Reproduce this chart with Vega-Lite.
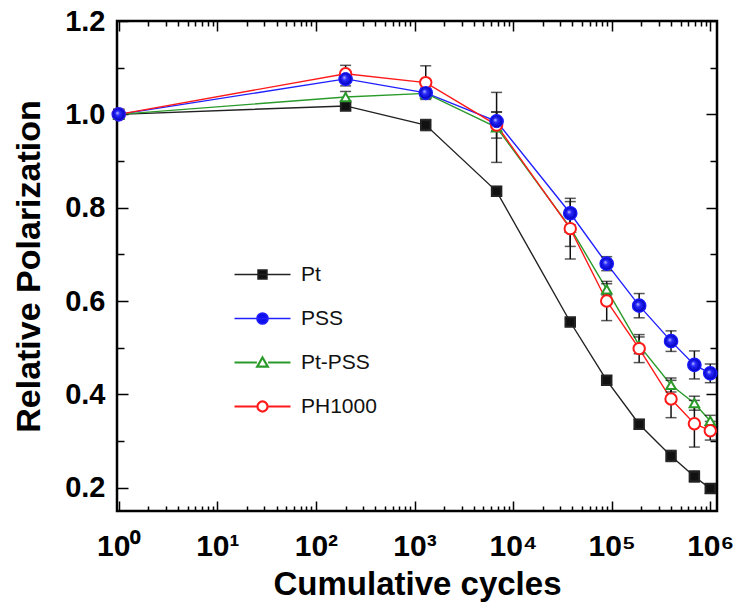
{
  "$schema": "https://vega.github.io/schema/vega-lite/v6.json",
  "width": 600,
  "height": 490,
  "autosize": "none",
  "padding": {"left": 117, "top": 21, "right": 20, "bottom": 96},
  "background": "white",
  "config": {
    "view": {"stroke": "black", "strokeWidth": 2.5},
    "font": "Liberation Sans",
    "axis": {"grid": false, "domain": false, "tickColor": "black", "tickWidth": 1.5, "labelFont": "Liberation Sans", "titleFont": "Liberation Sans"}
  },
  "datasets": {
    "pol": [
      {"series": "Pt", "cycles": 1, "v": 1.0, "e": 0},
      {"series": "Pt", "cycles": 200, "v": 1.018, "e": 0.008},
      {"series": "Pt", "cycles": 1300, "v": 0.977, "e": 0.012},
      {"series": "Pt", "cycles": 6800, "v": 0.835, "e": 0.01},
      {"series": "Pt", "cycles": 38000, "v": 0.555, "e": 0.006},
      {"series": "Pt", "cycles": 89000, "v": 0.43, "e": 0.009},
      {"series": "Pt", "cycles": 190000, "v": 0.336, "e": 0.01},
      {"series": "Pt", "cycles": 400000, "v": 0.268, "e": 0.012},
      {"series": "Pt", "cycles": 690000, "v": 0.224, "e": 0.012},
      {"series": "Pt", "cycles": 1000000, "v": 0.198, "e": 0.01},
      {"series": "PSS", "cycles": 1, "v": 1.0, "e": 0},
      {"series": "PSS", "cycles": 200, "v": 1.076, "e": 0.015},
      {"series": "PSS", "cycles": 1300, "v": 1.046, "e": 0.01},
      {"series": "PSS", "cycles": 6800, "v": 0.985, "e": 0.02},
      {"series": "PSS", "cycles": 38000, "v": 0.788, "e": 0.025},
      {"series": "PSS", "cycles": 89000, "v": 0.68, "e": 0.015},
      {"series": "PSS", "cycles": 190000, "v": 0.59, "e": 0.026},
      {"series": "PSS", "cycles": 400000, "v": 0.514, "e": 0.022},
      {"series": "PSS", "cycles": 690000, "v": 0.463, "e": 0.03},
      {"series": "PSS", "cycles": 1000000, "v": 0.445, "e": 0.02},
      {"series": "Pt-PSS", "cycles": 1, "v": 1.0, "e": 0},
      {"series": "Pt-PSS", "cycles": 200, "v": 1.037, "e": 0.012},
      {"series": "Pt-PSS", "cycles": 1300, "v": 1.045, "e": 0.01},
      {"series": "Pt-PSS", "cycles": 6800, "v": 0.972, "e": 0.075},
      {"series": "Pt-PSS", "cycles": 38000, "v": 0.757, "e": 0.04},
      {"series": "Pt-PSS", "cycles": 89000, "v": 0.625, "e": 0.012},
      {"series": "Pt-PSS", "cycles": 190000, "v": 0.505, "e": 0.018},
      {"series": "Pt-PSS", "cycles": 400000, "v": 0.42, "e": 0.015},
      {"series": "Pt-PSS", "cycles": 690000, "v": 0.381, "e": 0.015},
      {"series": "Pt-PSS", "cycles": 1000000, "v": 0.343, "e": 0.012},
      {"series": "PH1000", "cycles": 1, "v": 1.0, "e": 0},
      {"series": "PH1000", "cycles": 200, "v": 1.087, "e": 0.018},
      {"series": "PH1000", "cycles": 1300, "v": 1.068, "e": 0.036},
      {"series": "PH1000", "cycles": 6800, "v": 0.977, "e": 0.028},
      {"series": "PH1000", "cycles": 38000, "v": 0.755, "e": 0.065},
      {"series": "PH1000", "cycles": 89000, "v": 0.6, "e": 0.042},
      {"series": "PH1000", "cycles": 190000, "v": 0.498, "e": 0.03},
      {"series": "PH1000", "cycles": 400000, "v": 0.39, "e": 0.04},
      {"series": "PH1000", "cycles": 690000, "v": 0.337, "e": 0.05},
      {"series": "PH1000", "cycles": 1000000, "v": 0.322, "e": 0.02}
    ]
  },
  "data": {"name": "pol"},
  "resolve": {"axis": {"x": "independent", "y": "independent"}},
  "layer": [
    {
      "mark": {"type": "line", "strokeWidth": 1.4},
      "encoding": {
        "x": {
          "field": "cycles", "type": "quantitative",
          "scale": {"type": "log", "domain": [0.96, 1170000], "nice": false},
          "axis": {
            "orient": "bottom",
            "title": "Cumulative cycles",
            "titleFontSize": 33, "titleFontWeight": "bold", "titlePadding": 2,
            "values": [1,2,3,4,5,6,7,8,9,10,20,30,40,50,60,70,80,90,100,200,300,400,500,600,700,800,900,1000,2000,3000,4000,5000,6000,7000,8000,9000,10000,20000,30000,40000,50000,60000,70000,80000,90000,100000,200000,300000,400000,500000,600000,700000,800000,900000,1000000],
            "tickSize": {"condition": {"test": "abs(log(datum.value)/LN10 - round(log(datum.value)/LN10)) < 0.001", "value": -10}, "value": -5},
            "labelExpr": "abs(log(datum.value)/LN10 - round(log(datum.value)/LN10)) < 0.001 ? '10' + ['⁰','¹','²','³','⁴','⁵','⁶'][round(log(datum.value)/LN10)] : ''",
            "labelFontSize": 30, "labelFontWeight": "bold", "labelPadding": 30, "labelOverlap": false, "labelFlush": false, "labelColor": "black", "titleColor": "black"
          }
        },
        "y": {
          "field": "v", "type": "quantitative",
          "scale": {"domain": [0.15, 1.2], "nice": false, "zero": false},
          "axis": {
            "orient": "left",
            "title": "Relative Polarization",
            "titleFontSize": 34, "titleFontWeight": "bold", "titlePadding": 18,
            "values": [0.2,0.3,0.4,0.5,0.6,0.7,0.8,0.9,1.0,1.1,1.2],
            "tickSize": {"condition": {"test": "abs(datum.value*5 - round(datum.value*5)) < 0.001", "value": -11}, "value": -7},
            "labelExpr": "abs(datum.value*5 - round(datum.value*5)) < 0.001 ? format(datum.value, '.1f') : ''",
            "labelFontSize": 29, "labelFontWeight": "bold", "labelPadding": 23, "labelOverlap": false, "labelFlush": false, "labelColor": "black", "titleColor": "black"
          }
        },
        "stroke": {
          "field": "series", "type": "nominal",
          "scale": {"domain": ["Pt", "PSS", "Pt-PSS", "PH1000"], "range": ["#222222", "#2020ff", "#2a9a2a", "#ff1a1a"]},
          "legend": {
            "orient": "none", "legendX": 135, "legendY": 243, "title": null, "padding": 0,
            "symbolSize": 400, "labelOffset": 28, "labelFontSize": 21, "labelFont": "Liberation Sans", "labelColor": "#111111",
            "rowPadding": 22, "symbolStrokeWidth": 1.5,
            "encoding": {
              "symbols": {
                "size": {"value": 3136},
                "shape": {"value": {"expr": "datum.value == 'Pt' ? 'M-1,0H1M-0.16,-0.16H0.16V0.16H-0.16Z' : datum.value == 'PSS' ? 'M-1,0H1M0.2,0C0.2,0.11 0.11,0.2 0,0.2C-0.11,0.2 -0.2,0.11 -0.2,0C-0.2,-0.11 -0.11,-0.2 0,-0.2C0.11,-0.2 0.2,-0.11 0.2,0Z' : datum.value == 'Pt-PSS' ? 'M-1,0H-0.2M0.2,0H1M0,-0.18L0.19,0.15H-0.19Z' : 'M-1,0H-0.2M0.2,0H1M0.18,0C0.18,0.1 0.1,0.18 0,0.18C-0.1,0.18 -0.18,0.1 -0.18,0C-0.18,-0.1 -0.1,-0.18 0,-0.18C0.1,-0.18 0.18,-0.1 0.18,0Z'"}},
                "fill": {"value": {"expr": "datum.value == 'Pt' ? '#111111' : datum.value == 'PSS' ? '#1010ee' : 'white'"}},
                "strokeWidth": {"value": {"expr": "datum.value == 'Pt-PSS' || datum.value == 'PH1000' ? 2.2 : 1.5"}}
              }
            }
          }
        },
        "order": {"field": "cycles", "type": "quantitative"}
      }
    },
    {
      "transform": [{"filter": "datum.e > 0"}],
      "mark": {"type": "errorbar", "color": "#111111", "thickness": 1.5, "ticks": {"size": 11, "thickness": 1.5, "color": "#111111"}},
      "encoding": {
        "x": {"field": "cycles", "type": "quantitative", "axis": null},
        "y": {"field": "v", "type": "quantitative", "axis": null},
        "yError": {"field": "e"}
      }
    },
    {
      "mark": {"type": "point", "filled": false, "opacity": 1, "strokeWidth": 2},
      "encoding": {
        "x": {"field": "cycles", "type": "quantitative", "axis": null},
        "y": {"field": "v", "type": "quantitative", "axis": null},
        "stroke": {"field": "series", "type": "nominal", "legend": null},
        "shape": {"condition": [{"test": "datum.series == 'Pt'", "value": "square"}, {"test": "datum.series == 'Pt-PSS'", "value": "triangle-up"}], "value": "circle"},
        "fill": {"condition": [{"test": "datum.series == 'Pt'", "value": "#111111"}, {"test": "datum.series == 'PSS'", "value": "#1010ee"}], "value": "white"},
        "size": {"condition": [{"test": "datum.series == 'PSS'", "value": 160}, {"test": "datum.series == 'PH1000'", "value": 130}], "value": 90}
      }
    },
    {
      "transform": [{"filter": "datum.series == 'PSS'"}],
      "mark": {"type": "point", "shape": "circle", "size": 160, "strokeWidth": 1, "stroke": "#1a1aff", "opacity": 1,
        "fill": {"gradient": "radial", "x1": 0.38, "y1": 0.38, "r1": 0, "x2": 0.5, "y2": 0.5, "r2": 0.5, "stops": [{"offset": 0, "color": "#c8ccff"}, {"offset": 0.35, "color": "#2a2aff"}, {"offset": 1, "color": "#0000b8"}]}},
      "encoding": {
        "x": {"field": "cycles", "type": "quantitative", "axis": null},
        "y": {"field": "v", "type": "quantitative", "axis": null}
      }
    },
    {
      "mark": {"type": "point", "opacity": 0},
      "encoding": {
        "x": {
          "field": "cycles", "type": "quantitative",
          "axis": {
            "orient": "top", "title": null, "labels": false,
            "values": [1,2,3,4,5,6,7,8,9,10,20,30,40,50,60,70,80,90,100,200,300,400,500,600,700,800,900,1000,2000,3000,4000,5000,6000,7000,8000,9000,10000,20000,30000,40000,50000,60000,70000,80000,90000,100000,200000,300000,400000,500000,600000,700000,800000,900000,1000000],
            "tickSize": {"condition": {"test": "abs(log(datum.value)/LN10 - round(log(datum.value)/LN10)) < 0.001", "value": -10}, "value": -5}
          }
        },
        "y": {
          "field": "v", "type": "quantitative",
          "axis": {
            "orient": "right", "title": null, "labels": false,
            "values": [0.2,0.3,0.4,0.5,0.6,0.7,0.8,0.9,1.0,1.1,1.2],
            "tickSize": {"condition": {"test": "abs(datum.value*5 - round(datum.value*5)) < 0.001", "value": -11}, "value": -7}
          }
        }
      }
    }
  ]
}
